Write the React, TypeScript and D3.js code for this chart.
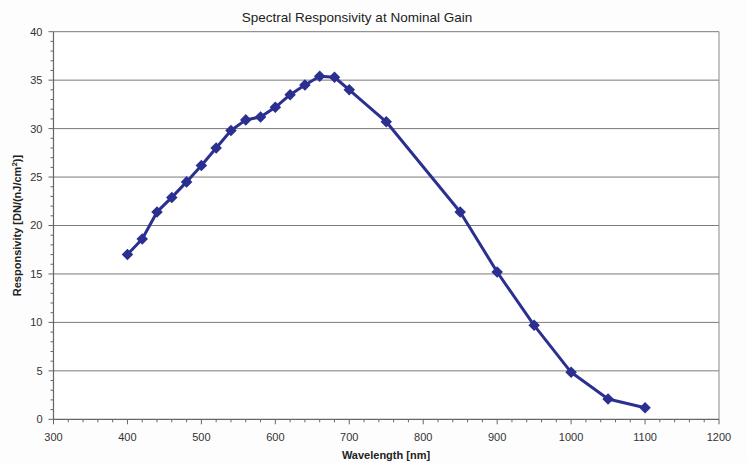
import * as d3 from "d3";
import React, { useEffect, useRef } from "react";

// wavelength [nm] and responsivity
const wavelengths = [400, 420, 440, 460, 480, 500, 520, 540, 560, 580, 600, 620, 640, 660, 680, 700, 750, 850, 900, 950, 1000, 1050, 1100];
const responsivity = [17.0, 18.6, 21.4, 22.9, 24.5, 26.2, 28.0, 29.8, 30.9, 31.2, 32.2, 33.5, 34.5, 35.4, 35.3, 34.0, 30.7, 21.4, 15.2, 9.7, 4.85, 2.1, 1.2];
const xTicks = [300, 400, 500, 600, 700, 800, 900, 1000, 1100, 1200];
const yTicks = [0, 5, 10, 15, 20, 25, 30, 35, 40];

const W = 747;
const H = 463;
const color = "#2b2f8f";

const App: React.FC = () => {
  const svgRef = useRef<SVGSVGElement | null>(null);

  useEffect(() => {
    const svg = d3.select(svgRef.current);
    svg.selectAll("*").remove();

    const margin = { top: 31.7, right: 28, bottom: 43.7, left: 53.5 };
    const cw = W - margin.left - margin.right;
    const ch = H - margin.top - margin.bottom;

    const x = d3.scaleLinear().domain([300, 1200]).range([0, cw]);
    const y = d3.scaleLinear().domain([0, 40]).range([ch, 0]);

    svg.append("rect").attr("width", W).attr("height", H).attr("fill", "#fdfdfd");

    const g = svg.append("g").attr("transform", `translate(${margin.left},${margin.top})`);

    g.append("rect").attr("width", cw).attr("height", ch).attr("fill", "#fff");

    // horizontal gridlines
    g.selectAll(".grid")
      .data(yTicks.filter((d) => d > 0))
      .enter()
      .append("line")
      .attr("x1", 0)
      .attr("x2", cw)
      .attr("y1", (d) => y(d))
      .attr("y2", (d) => y(d))
      .attr("stroke", "#7a7a7a")
      .attr("stroke-width", 1);

    // right border
    g.append("line")
      .attr("x1", cw).attr("x2", cw)
      .attr("y1", 0).attr("y2", ch)
      .attr("stroke", "#8a8a8a");

    const font = "Arial, 'Liberation Sans', sans-serif";

    // x axis
    const xAxis = g.append("g").attr("transform", `translate(0,${ch})`);
    xAxis.append("line").attr("x1", 0).attr("x2", cw).attr("stroke", "#666").attr("stroke-width", 1.2);
    xAxis.selectAll(".minor")
      .data(d3.range(300, 1201, 20))
      .enter()
      .append("line")
      .attr("x1", (d) => x(d))
      .attr("x2", (d) => x(d))
      .attr("y1", 0)
      .attr("y2", (d) => (d % 100 === 0 ? 5 : 3))
      .attr("stroke", "#666");
    xAxis.selectAll("text")
      .data(xTicks)
      .enter()
      .append("text")
      .attr("x", (d) => x(d))
      .attr("y", 22)
      .attr("text-anchor", "middle")
      .attr("font-family", font)
      .attr("font-size", 11)
      .attr("fill", "#333")
      .text((d) => d);

    // y axis
    const yAxis = g.append("g");
    yAxis.append("line").attr("y1", 0).attr("y2", ch).attr("stroke", "#666").attr("stroke-width", 1.2);
    yAxis.selectAll(".minor")
      .data(d3.range(0, 41, 1))
      .enter()
      .append("line")
      .attr("x1", (d) => (d % 5 === 0 ? -5 : -3))
      .attr("x2", 0)
      .attr("y1", (d) => y(d))
      .attr("y2", (d) => y(d))
      .attr("stroke", "#666");
    yAxis.selectAll("text")
      .data(yTicks)
      .enter()
      .append("text")
      .attr("x", -11)
      .attr("y", (d) => y(d) + 4)
      .attr("text-anchor", "end")
      .attr("font-family", font)
      .attr("font-size", 11)
      .attr("fill", "#333")
      .text((d) => d);

    // series
    const pts = wavelengths.map((w, i) => [w, responsivity[i]] as [number, number]);
    const line = d3.line<[number, number]>().x((d) => x(d[0])).y((d) => y(d[1]));
    g.append("path")
      .attr("d", line(pts)!)
      .attr("fill", "none")
      .attr("stroke", color)
      .attr("stroke-width", 3)
      .attr("stroke-linejoin", "round");

    const diamond = d3.symbol().type(d3.symbolDiamond2).size(85);
    g.selectAll(".pt")
      .data(pts)
      .enter()
      .append("path")
      .attr("d", diamond()!)
      .attr("transform", (d) => `translate(${x(d[0])},${y(d[1])})`)
      .attr("fill", color);

    // title
    svg.append("text")
      .attr("x", 357)
      .attr("y", 22)
      .attr("text-anchor", "middle")
      .attr("font-family", font)
      .attr("font-size", 13.5)
      .attr("fill", "#222")
      .text("Spectral Responsivity at Nominal Gain");

    // x label
    svg.append("text")
      .attr("x", 386)
      .attr("y", 459)
      .attr("text-anchor", "middle")
      .attr("font-family", font)
      .attr("font-size", 11)
      .attr("font-weight", "bold")
      .attr("fill", "#222")
      .text("Wavelength [nm]");

    // y label
    const yl = svg.append("text")
      .attr("transform", `translate(21,${margin.top + ch / 2}) rotate(-90)`)
      .attr("text-anchor", "middle")
      .attr("font-family", font)
      .attr("font-size", 11)
      .attr("font-weight", "bold")
      .attr("fill", "#222");
    yl.append("tspan").text("Responsivity [DN/(nJ/cm");
    yl.append("tspan").attr("font-size", 8).attr("dy", -4).text("2");
    yl.append("tspan").attr("dy", 4).text(")]");
  }, []);

  return (
    <svg
      ref={svgRef}
      width={W}
      height={H}
      style={{ display: "block", position: "absolute", left: 0, top: 0 }}
    />
  );
};

export default App;
